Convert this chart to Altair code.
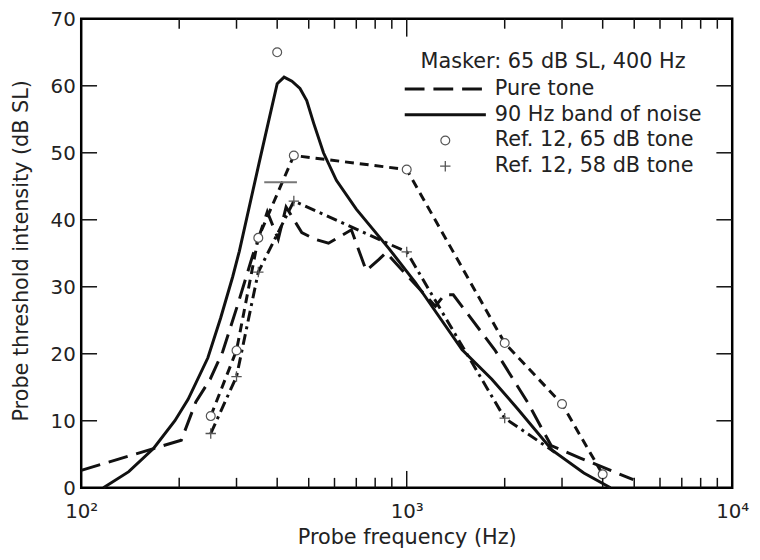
import altair as alt
import pandas as pd

# ---------------- data ----------------
tone_hz = [100, 203, 225, 249, 272, 302, 336, 373, 403, 426, 476, 522, 575, 676,
           751, 822, 864, 1225, 1305, 1390, 1864, 2349, 2778, 3428, 4966]
tone_db = [2.6, 7.1, 12.8, 16.2, 20.3, 27.2, 34.6, 41.2, 37.1, 41.9, 38.1, 37.1, 36.5, 38.5,
           32.4, 34.1, 35.1, 27.1, 28.8, 28.8, 20.6, 12.8, 6.3, 4.4, 1.2]

noise_hz = [117, 140, 167, 194, 213, 245, 268, 292, 306, 352, 378, 400, 420, 444, 470,
            493, 518, 555, 608, 700, 882, 1065, 1480, 1826, 2190, 2798, 3501, 4227]
noise_db = [0, 2.4, 5.9, 10.0, 13.2, 19.4, 25.3, 31.5, 35.3, 48.5, 55.1, 60.3, 61.3, 60.7, 59.6,
            57.8, 54.4, 50.0, 45.9, 41.6, 35.7, 30.6, 20.6, 16.2, 11.8, 5.6, 2.2, 0]

ref65_hz = [250, 300, 350, 450, 1000, 2000, 3000, 4000]
ref65_db = [10.7, 20.5, 37.3, 49.6, 47.5, 21.6, 12.5, 2.0]
ref65_extra_hz = [400]
ref65_extra_db = [65]

ref58_line_hz = [250, 300, 350, 450, 1000, 2000, 2850]
ref58_line_db = [8.1, 16.6, 32.2, 42.8, 35.2, 10.4, 5.3]
ref58_hz = [250, 300, 350, 450, 1000, 2000]
ref58_db = [8.1, 16.6, 32.2, 42.8, 35.2, 10.4]
ref58_bar_lo = [365]
ref58_bar_hi = [460]
ref58_bar_db = [45.6]

y_major = [10, 20, 30, 40, 50, 60]
x_major = [1000]
x_minor = [200, 300, 400, 500, 600, 700, 800, 900,
           2000, 3000, 4000, 5000, 6000, 7000, 8000, 9000]
x_label_values = [100, 1000, 10000]
y_labels = [0, 10, 20, 30, 40, 50, 60, 70]

legend_title = "Masker: 65 dB SL, 400 Hz"
legend_labels = ["Pure tone", "90 Hz band of noise", "Ref. 12, 65 dB tone", "Ref. 12, 58 dB tone"]

# ---------------- layout ----------------
W, H = 658, 474
TOP = 8
FONT = "DejaVu Sans"
FS = 21
FS_TICK = 20
INK = "#111111"
TXT = "#222222"
GRAY = "#555555"

xs = alt.Scale(type="log", domain=[100, 10000], nice=False)
ys = alt.Scale(domain=[0, 70], nice=False, zero=False)

label_expr = "datum.value == 100 ? '10²' : datum.value == 1000 ? '10³' : '10⁴'"

x_axis = alt.Axis(values=x_label_values, labelExpr=label_expr, ticks=False, domain=False,
                  grid=False, labelFontSize=FS_TICK, labelFont=FONT, labelColor=TXT, labelPadding=14,
                  labelFlush=False, labelOverlap=False,
                  title="Probe frequency (Hz)", titleFont=FONT, titleFontSize=FS,
                  titleFontWeight="normal", titleColor=TXT, titleY=50, titleBaseline="middle")
y_axis = alt.Axis(values=y_labels, ticks=False, domain=False, grid=False, labelFontSize=FS_TICK,
                  labelFont=FONT, labelColor=TXT, labelPadding=6, labelFlush=False,
                  labelOverlap=False, labelOffset=1,
                  title="Probe threshold intensity (dB SL)", titleFont=FONT, titleFontSize=FS,
                  titleFontWeight="normal", titleColor=TXT, titleX=-60, titleY=H / 2 - 3,
                  titleAngle=270, titleBaseline="middle", titleAlign="center")

df_tone = pd.DataFrame({"f": tone_hz, "db": tone_db})
df_noise = pd.DataFrame({"f": noise_hz, "db": noise_db})
df_r65 = pd.DataFrame({"f": ref65_hz, "db": ref65_db})
df_r65x = pd.DataFrame({"f": ref65_extra_hz, "db": ref65_extra_db})
df_r58l = pd.DataFrame({"f": ref58_line_hz, "db": ref58_line_db})
df_r58 = pd.DataFrame({"f": ref58_hz, "db": ref58_db})
df_bar = pd.DataFrame({"f": ref58_bar_lo, "hi": ref58_bar_hi, "db": ref58_bar_db})

X = alt.X("f:Q", scale=xs, axis=x_axis)
Y = alt.Y("db:Q", scale=ys, axis=y_axis)

noise = alt.Chart(df_noise).mark_line(color=INK, strokeWidth=3).encode(x=X, y=Y)
tone = alt.Chart(df_tone).mark_line(color=INK, strokeWidth=3, strokeDash=[20, 9]).encode(x=X, y=Y)
r65_line = alt.Chart(df_r65).mark_line(color=INK, strokeWidth=3, strokeDash=[9, 6]).encode(x=X, y=Y)
r58_line = alt.Chart(df_r58l).mark_line(color=INK, strokeWidth=3, strokeDash=[11, 5, 3, 5]).encode(x=X, y=Y)

bar = alt.Chart(df_bar).mark_rule(color="#777777", strokeWidth=2).encode(x=X, x2="hi:Q", y=Y)

circle_mark = dict(shape="circle", size=80, filled=True, fill="white", stroke=GRAY, strokeWidth=1.2, opacity=1)
plus_path = "M-1,0L1,0M0,-1L0,1"
plus_mark = dict(shape=plus_path, size=110, filled=False, stroke=GRAY, strokeWidth=1.3, opacity=1)

r65_pts = alt.Chart(df_r65).mark_point(**circle_mark).encode(x=X, y=Y)
r65x_pts = alt.Chart(df_r65x).mark_point(**circle_mark).encode(x=X, y=Y)
r58_pts = alt.Chart(df_r58).mark_point(**plus_mark).encode(x=X, y=Y)

# ---------------- tick marks (inward) ----------------
df_ym = pd.DataFrame({"db": y_major})
df_xM = pd.DataFrame({"f": x_major})
df_xm = pd.DataFrame({"f": x_minor})
tick_style = dict(color=INK, strokeWidth=1.5)
yt_left = alt.Chart(df_ym).mark_rule(**tick_style).encode(y=Y, x=alt.value(0), x2=alt.value(16))
yt_right = alt.Chart(df_ym).mark_rule(**tick_style).encode(y=Y, x=alt.value(W - 16), x2=alt.value(W))
xt_bM = alt.Chart(df_xM).mark_rule(**tick_style).encode(x=X, y=alt.value(H), y2=alt.value(H - 17))
xt_bm = alt.Chart(df_xm).mark_rule(**tick_style).encode(x=X, y=alt.value(H), y2=alt.value(H - 10))
xt_tM = alt.Chart(df_xM).mark_rule(**tick_style).encode(x=X, y=alt.value(0), y2=alt.value(18))
xt_tm = alt.Chart(df_xm).mark_rule(**tick_style).encode(x=X, y=alt.value(0), y2=alt.value(10))

# ---------------- legend (drawn inside the plot) ----------------
LX0, LX1, LSYM, LTXT = 327, 409, 368, 418
rows = [71, 97, 123, 149]
txt = dict(font=FONT, fontSize=FS, color=TXT, align="left", baseline="middle")
leg = [
    alt.Chart().mark_text(**txt).encode(x=alt.value(343), y=alt.value(44), text=alt.value(legend_title)),
    alt.Chart().mark_rule(color=INK, strokeWidth=3, strokeDash=[20, 9]).encode(
        x=alt.value(LX0), x2=alt.value(LX1), y=alt.value(rows[0])),
    alt.Chart().mark_rule(color=INK, strokeWidth=3).encode(
        x=alt.value(LX0), x2=alt.value(LX1), y=alt.value(rows[1])),
    alt.Chart().mark_point(**circle_mark).encode(x=alt.value(LSYM), y=alt.value(rows[2])),
    alt.Chart().mark_point(**plus_mark).encode(x=alt.value(LSYM), y=alt.value(rows[3])),
]
for r, lab in zip(rows, legend_labels):
    leg.append(alt.Chart().mark_text(**txt).encode(x=alt.value(LTXT), y=alt.value(r), text=alt.value(lab)))

chart = alt.layer(
    noise, tone, r65_line, r58_line, bar, r65_pts, r65x_pts, r58_pts,
    yt_left, yt_right, xt_bM, xt_bm, xt_tM, xt_tm, *leg
).properties(
    width=W, height=H,
    autosize=alt.AutoSizeParams(type="none"),
    padding={"left": 74, "top": TOP, "right": 20, "bottom": 62},
    background="white",
).configure_view(stroke="#000000", strokeWidth=2.5)

chart.save("out.html", embed_options={"renderer": "svg", "actions": False})
